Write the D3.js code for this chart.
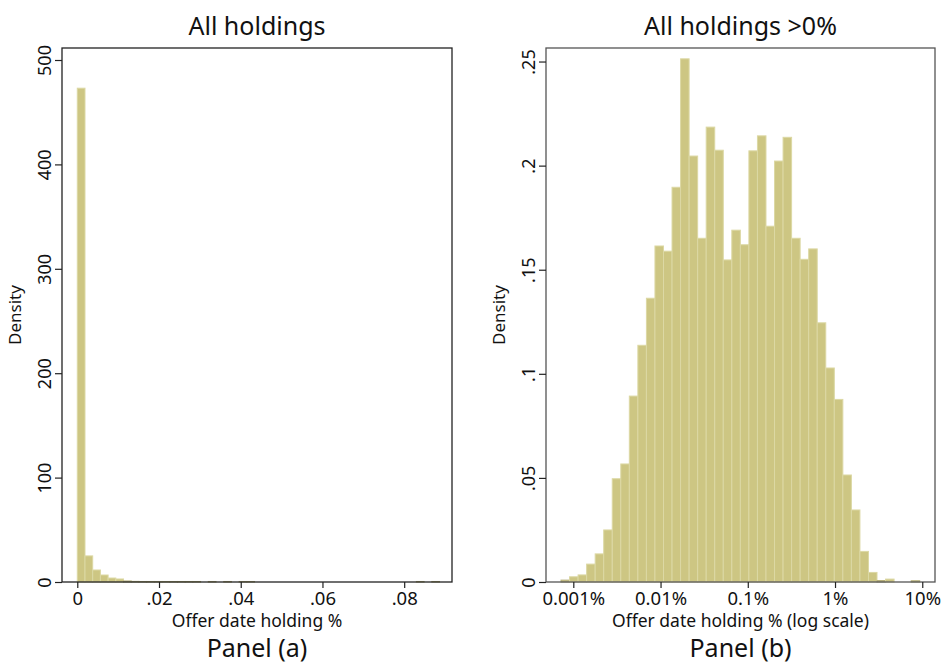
<!DOCTYPE html>
<html>
<head>
<meta charset="utf-8">
<script src="https://cdn.jsdelivr.net/npm/d3@7"></script>
<style>
  html, body { margin: 0; padding: 0; background: #fff; }
  svg text { font-family: "Noto Sans", "DejaVu Sans", sans-serif; fill: #111; }
</style>
</head>
<body>
<svg id="chart" width="943" height="664"></svg>
<script>
// ---------- DATA ----------
// Panel (a): histogram of offer date holding (fraction), density per bin
const leftBinStart = 0;
const leftBinWidth = 0.001886;
const leftDensity = [473, 25, 11.5, 6.7, 3.8, 2.9, 1.0, 0.6, 0.5, 0.5, 0.5, 0.5, 0.5, 0.5, 0.5, 0.5,
  0, 0.5, 0, 0.5, 0, 0.5, 0.5,
  0, 0, 0, 0, 0, 0, 0, 0, 0, 0, 0, 0, 0, 0, 0, 0, 0, 0, 0, 0, 0,
  0.5, 0, 0.5];
const leftXTicks = [0, 0.02, 0.04, 0.06, 0.08];
const leftXTickLabels = ["0", ".02", ".04", ".06", ".08"];
const leftYTicks = [0, 100, 200, 300, 400, 500];
const leftYTickLabels = ["0", "100", "200", "300", "400", "500"];

// Panel (b): histogram of log holding % (>0), bins in log10(percent)
const rightBinStartLog10 = -3.141;
const rightBinWidthLog10 = 0.0979;
const rightDensity = [0.0009, 0.0025, 0.0034, 0.0086, 0.0135, 0.025, 0.0496, 0.0567, 0.0893, 0.1137,
  0.1363, 0.1614, 0.1589, 0.1896, 0.2513, 0.2046, 0.1651, 0.2185, 0.2074, 0.1547,
  0.169, 0.162, 0.2071, 0.2143, 0.1709, 0.2022, 0.2136, 0.1651, 0.155, 0.16,
  0.1245, 0.1028, 0.0877, 0.0514, 0.0346, 0.0147, 0.0046, 0.0007, 0.0014, 0, 0, 0.0006];
const rightXTicks = [0.001, 0.01, 0.1, 1, 10];
const rightXTickLabels = ["0.001%", "0.01%", "0.1%", "1%", "10%"];
const rightYTicks = [0, 0.05, 0.1, 0.15, 0.2, 0.25];
const rightYTickLabels = ["0", ".05", ".1", ".15", ".2", ".25"];

const titles = ["All holdings", "All holdings >0%"];
const xTitles = ["Offer date holding %", "Offer date holding % (log scale)"];
const yTitle = "Density";
const captions = ["Panel (a)", "Panel (b)"];

// ---------- STYLE ----------
const barFill = "#cdc683";
const barStroke = "#dcd8a4";
const svg = d3.select("#chart");

function drawPanel(cfg) {
  const { x0, x1, y0, y1, xScale, yScale, bars, xTicks, xLabels, yTicks, yLabels, title, xTitle, caption, frameColor } = cfg;
  const g = svg.append("g");

  // bars
  g.selectAll("rect.bar").data(bars.filter(d => d.v > 0)).join("rect")
    .attr("class", "bar")
    .attr("x", d => xScale(d.a))
    .attr("width", d => xScale(d.b) - xScale(d.a))
    .attr("y", d => yScale(d.v))
    .attr("height", d => yScale(0) - yScale(d.v))
    .attr("fill", barFill)
    .attr("stroke", d => (yScale(0) - yScale(d.v)) < 2 ? "#b5ae7a" : barStroke)
    .attr("stroke-width", 1);

  // frame
  g.append("rect")
    .attr("x", x0).attr("y", y0)
    .attr("width", x1 - x0).attr("height", y1 - y0)
    .attr("fill", "none").attr("stroke", frameColor).attr("stroke-width", 1.3);

  // x axis
  const xAxis = d3.axisBottom(xScale).tickValues(xTicks)
    .tickFormat((d, i) => xLabels[i]).tickSize(6).tickSizeOuter(0).tickPadding(4);
  const xg = g.append("g").attr("transform", `translate(0,${y1})`).call(xAxis);
  xg.select(".domain").remove();
  xg.selectAll(".tick line").attr("stroke", "#222").attr("stroke-width", 1.2);
  xg.selectAll(".tick text").style("font-size", "18.5px").attr("fill", "#111")
    .style("font-family", '"Noto Sans", sans-serif');

  // y axis (rotated labels)
  const yAxis = d3.axisLeft(yScale).tickValues(yTicks)
    .tickFormat((d, i) => yLabels[i]).tickSize(7).tickSizeOuter(0).tickPadding(3);
  const yg = g.append("g").attr("transform", `translate(${x0},0)`).call(yAxis);
  yg.select(".domain").remove();
  yg.selectAll(".tick line").attr("stroke", "#222").attr("stroke-width", 1.2);
  yg.selectAll(".tick text")
    .style("font-size", "18px").attr("fill", "#111")
    .style("font-family", '"Noto Sans", sans-serif')
    .attr("x", null).attr("dy", null)
    .attr("text-anchor", "middle")
    .attr("transform", "translate(-11,0) rotate(-90)");

  // titles
  const cx = (x0 + x1) / 2;
  g.append("text").attr("x", cx).attr("y", 35).attr("text-anchor", "middle")
    .style("font-size", "25px").text(title);
  g.append("text").attr("x", cx).attr("y", 627).attr("text-anchor", "middle")
    .style("font-size", "17.5px").text(xTitle);
  g.append("text").attr("x", cx).attr("y", 657).attr("text-anchor", "middle")
    .style("font-size", "25px").text(caption);
  g.append("text")
    .attr("transform", `translate(${x0 - 41},${(y0 + y1) / 2}) rotate(-90)`)
    .attr("text-anchor", "middle")
    .style("font-size", "17px").text(yTitle);
}

// ---------- PANEL A ----------
{
  const x0 = 62, x1 = 452, y0 = 48, y1 = 582;
  const xScale = d3.scaleLinear().domain([-0.00374, 0.0917]).range([x0, x1]);
  const yScale = d3.scaleLinear().domain([0, 511.5]).range([y1, y0]);
  const bars = leftDensity.map((v, i) => ({
    a: leftBinStart + i * leftBinWidth, b: leftBinStart + (i + 1) * leftBinWidth, v }));
  drawPanel({ x0, x1, y0, y1, xScale, yScale, bars,
    xTicks: leftXTicks, xLabels: leftXTickLabels, yTicks: leftYTicks, yLabels: leftYTickLabels,
    title: titles[0], xTitle: xTitles[0], caption: captions[0], frameColor: "#222" });
}

// ---------- PANEL B ----------
{
  const x0 = 546, x1 = 935, y0 = 48, y1 = 582;
  const xScale = d3.scaleLog().domain([Math.pow(10, -3.313), Math.pow(10, 1.146)]).range([x0, x1]);
  const yScale = d3.scaleLinear().domain([0, 0.2565]).range([y1, y0]);
  const bars = rightDensity.map((v, i) => ({
    a: Math.pow(10, rightBinStartLog10 + i * rightBinWidthLog10),
    b: Math.pow(10, rightBinStartLog10 + (i + 1) * rightBinWidthLog10), v }));
  drawPanel({ x0, x1, y0, y1, xScale, yScale, bars,
    xTicks: rightXTicks, xLabels: rightXTickLabels, yTicks: rightYTicks, yLabels: rightYTickLabels,
    title: titles[1], xTitle: xTitles[1], caption: captions[1], frameColor: "#555" });
}
</script>
</body>
</html>
